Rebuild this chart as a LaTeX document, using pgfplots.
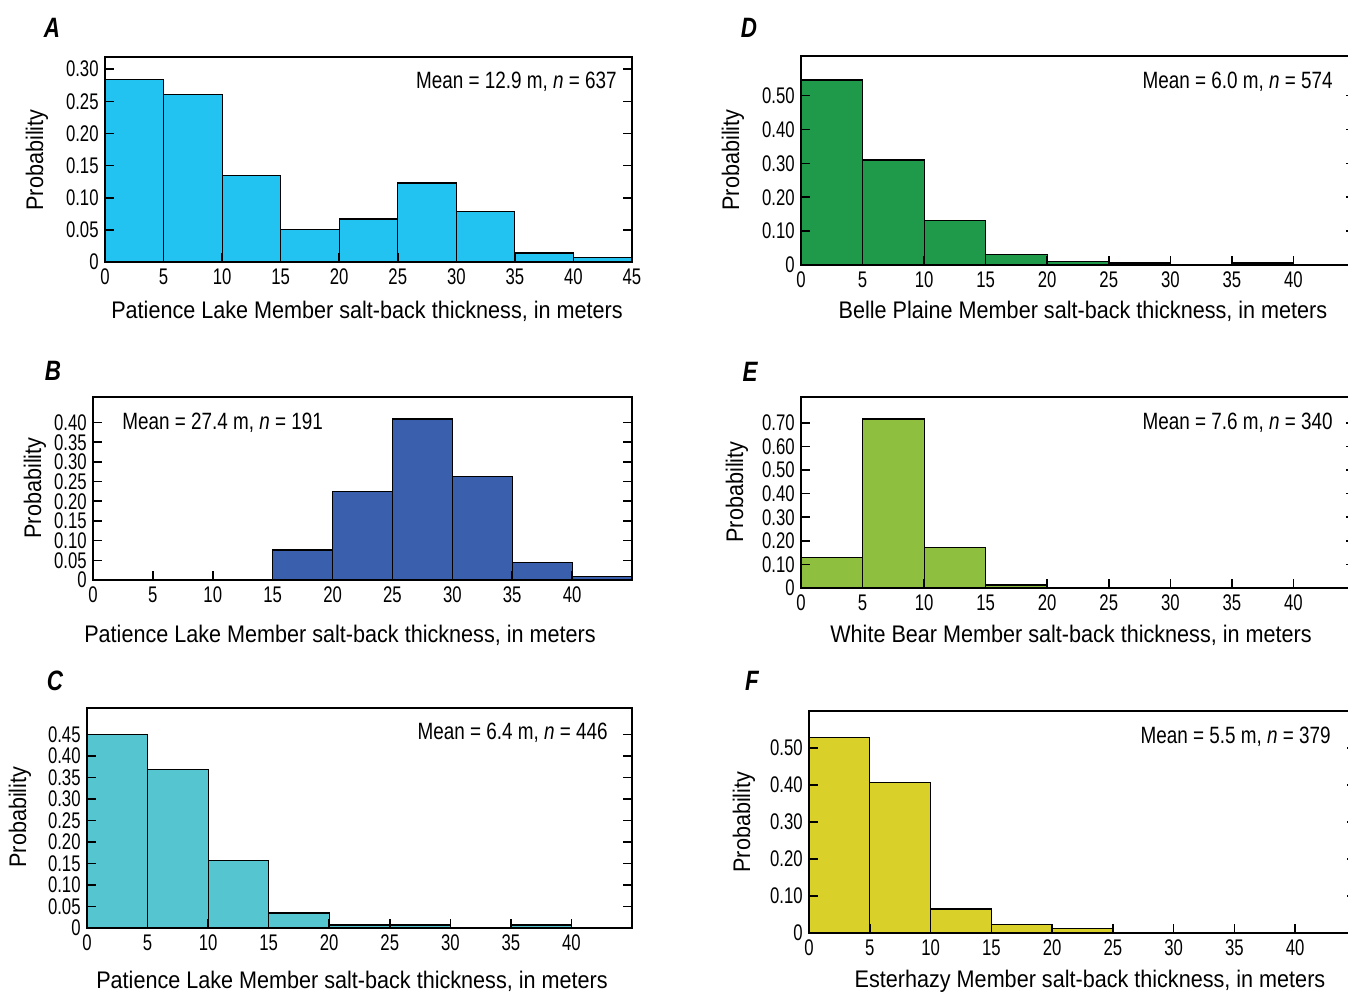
\documentclass[border=0pt]{standalone}
\usepackage{fontspec}
\setmainfont{Liberation Sans}[FakeStretch=0.8]
\newfontfamily\lbfont{Liberation Sans}[FakeStretch=0.9]
\newfontfamily\tkfont{Liberation Sans}[FakeStretch=0.74]
\usepackage{pgfplots}
\pgfplotsset{compat=1.18}
\definecolor{cA}{HTML}{22C3F0}
\definecolor{cB}{HTML}{3A5FAD}
\definecolor{cC}{HTML}{55C5D0}
\definecolor{cD}{HTML}{1E9A4A}
\definecolor{cE}{HTML}{8FBF3F}
\definecolor{cF}{HTML}{D9D12A}
\pgfplotsset{
  hist/.style={scale only axis, xmin=0, xmax=45, ymin=0, axis on top,
    axis line style={line width=0.9pt},
    tick align=inside,
    xtick pos=bottom, ytick pos=both,
    major tick length=4.5pt,
    tick style={line width=0.8pt, black},
    ticklabel style={font=\tkfont\fontsize{11.3}{12}\selectfont},
    yticklabel style={inner xsep=3pt},
    xtick={0,5,...,40}, xticklabels={0,5,10,15,20,25,30,35,40}},
  bar/.style={ybar interval, draw=black, line width=0.6pt}
}
\newcommand\lab{\lbfont\fontsize{12}{14}\selectfont}
\newcommand\pan{\fontsize{14}{16}\selectfont\bfseries\itshape}
\newcommand\mn{\fontsize{11.8}{13}\selectfont}
\begin{document}
\begin{tikzpicture}
\useasboundingbox (0,0) rectangle (674pt,496.5pt);
% ---------- A ----------
\begin{axis}[hist, at={(52.5pt,365.5pt)}, width=263.5pt, height=102.5pt, ymax=0.319,
  xtick={0,5,...,45}, xticklabels={0,5,10,15,20,25,30,35,40,45},
  ytick={0,0.05,0.10,0.15,0.20,0.25,0.30}, yticklabels={0,0.05,0.10,0.15,0.20,0.25,0.30}]
\addplot[bar, fill=cA] coordinates {(0,0.284)(5,0.261)(10,0.134)(15,0.051)(20,0.067)(25,0.123)(30,0.079)(35,0.014)(40,0.007)(45,0)};
\end{axis}
% ---------- B ----------
\begin{axis}[hist, at={(46.5pt,206.5pt)}, width=269.5pt, height=91.5pt, ymax=0.465,
  ytick={0,0.05,0.10,0.15,0.20,0.25,0.30,0.35,0.40}, yticklabels={0,0.05,0.10,0.15,0.20,0.25,0.30,0.35,0.40}]
\addplot[bar, fill=cB] coordinates {(15,0.076)(20,0.225)(25,0.409)(30,0.264)(35,0.045)(40,0.0085)(45,0)};
\end{axis}
% ---------- C ----------
\begin{axis}[hist, at={(43.5pt,32.5pt)}, width=272.5pt, height=110pt, ymax=0.512,
  ytick={0,0.05,0.10,0.15,0.20,0.25,0.30,0.35,0.40,0.45}, yticklabels={0,0.05,0.10,0.15,0.20,0.25,0.30,0.35,0.40,0.45}]
\addplot[bar, fill=cC] coordinates {(0,0.450)(5,0.369)(10,0.158)(15,0.035)(20,0.007)(25,0.007)(30,0)(35,0.007)(40,0)};
\end{axis}
% ---------- D ----------
\begin{axis}[hist, at={(400.5pt,364pt)}, width=277pt, height=104.5pt, ymax=0.617,
  ytick={0,0.10,0.20,0.30,0.40,0.50}, yticklabels={0,0.10,0.20,0.30,0.40,0.50}]
\addplot[bar, fill=cD] coordinates {(0,0.546)(5,0.310)(10,0.131)(15,0.031)(20,0.0098)(25,0.006)(30,0)(35,0.006)(40,0)};
\end{axis}
% ---------- E ----------
\begin{axis}[hist, at={(400.5pt,202.5pt)}, width=277pt, height=95.5pt, ymax=0.81,
  ytick={0,0.10,0.20,0.30,0.40,0.50,0.60,0.70}, yticklabels={0,0.10,0.20,0.30,0.40,0.50,0.60,0.70}]
\addplot[bar, fill=cE] coordinates {(0,0.129)(5,0.717)(10,0.171)(15,0.013)(20,0)};
\end{axis}
% ---------- F ----------
\begin{axis}[hist, at={(404.5pt,30pt)}, width=273.5pt, height=111pt, ymax=0.60,
  ytick={0,0.10,0.20,0.30,0.40,0.50}, yticklabels={0,0.10,0.20,0.30,0.40,0.50}]
\addplot[bar, fill=cF] coordinates {(0,0.529)(5,0.407)(10,0.065)(15,0.0225)(20,0.0126)(25,0)};
\end{axis}
% ---------- texts ----------
\node[font=\pan] at (26pt,482.5pt) {A};
\node[font=\pan] at (26.5pt,311pt) {B};
\node[font=\pan] at (27.5pt,156pt) {C};
\node[font=\pan] at (374.5pt,482.5pt) {D};
\node[font=\pan] at (375pt,310.5pt) {E};
\node[font=\pan] at (376pt,156pt) {F};
\node[font=\lab] at (183.5pt,341pt) {Patience Lake Member salt-back thickness, in meters};
\node[font=\lab] at (170pt,179pt) {Patience Lake Member salt-back thickness, in meters};
\node[font=\lab] at (176pt,6pt) {Patience Lake Member salt-back thickness, in meters};
\node[font=\lab] at (541.5pt,341pt) {Belle Plaine Member salt-back thickness, in meters};
\node[font=\lab] at (535.5pt,179pt) {White Bear Member salt-back thickness, in meters};
\node[font=\lab] at (545pt,6pt) {Esterhazy Member salt-back thickness, in meters};
\node[font=\lab, rotate=90] at (18.5pt,416.5pt) {Probability};
\node[font=\lab, rotate=90] at (17.5pt,252.5pt) {Probability};
\node[font=\lab, rotate=90] at (10pt,88pt) {Probability};
\node[font=\lab, rotate=90] at (366.5pt,416.5pt) {Probability};
\node[font=\lab, rotate=90] at (368.5pt,250.5pt) {Probability};
\node[font=\lab, rotate=90] at (372pt,85.5pt) {Probability};
\node[font=\mn, inner sep=0pt, anchor=east] at (308.5pt,455.5pt) {Mean = 12.9 m, \textit{n} = 637};
\node[font=\mn, inner sep=0pt, anchor=west] at (61pt,285pt) {Mean = 27.4 m, \textit{n} = 191};
\node[font=\mn, inner sep=0pt, anchor=east] at (304pt,130pt) {Mean = 6.4 m, \textit{n} = 446};
\node[font=\mn, inner sep=0pt, anchor=east] at (666.5pt,455.5pt) {Mean = 6.0 m, \textit{n} = 574};
\node[font=\mn, inner sep=0pt, anchor=east] at (666.5pt,285pt) {Mean = 7.6 m, \textit{n} = 340};
\node[font=\mn, inner sep=0pt, anchor=east] at (665.5pt,128pt) {Mean = 5.5 m, \textit{n} = 379};
\end{tikzpicture}
\end{document}
